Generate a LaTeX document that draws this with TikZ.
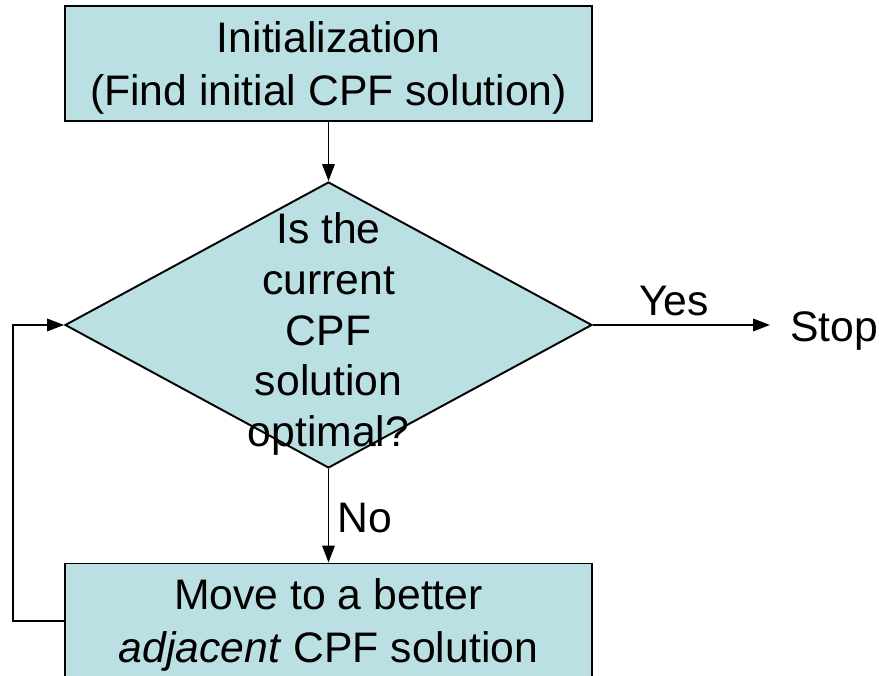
\documentclass[tikz,border=0pt]{standalone}
\usepackage{fontspec}
\setmainfont{Liberation Sans}
\usetikzlibrary{shapes.geometric,arrows.meta}
\definecolor{boxfill}{RGB}{187,224,227}

\begin{document}
\begin{tikzpicture}[
    every node/.style={font=\fontsize{24.3}{30.2}\selectfont, align=center},
    stepbox/.style={draw, fill=boxfill, line width=1.1pt, text depth=0pt, minimum width=10.54cm, minimum height=2.3cm},
    test/.style={draw, fill=boxfill, diamond, line width=1.1pt, inner sep=0pt, minimum width=10.54cm, minimum height=5.72cm},
    flow/.style={line width=1.1pt, -{Triangle[length=0.34cm,width=0.25cm]}}]
    \useasboundingbox (0,0) rectangle (17.58,13.52);
    % boxes
    \node[stepbox] (init) at (6.57,12.25) {Initialization\\(Find initial CPF solution)};
    \node[test] (dec) at (6.57,7.02) {};
    \node[font=\fontsize{24.3}{28.9}\selectfont] (q) at (6.57,6.84) {Is the\\current\\CPF\\solution\\optimal?};
    \node[stepbox] (move) at (6.57,1.10) {Move to a better\\\textit{adjacent} CPF solution};
    \node[anchor=west, inner xsep=0.4cm] (stop) at (15.4,6.9) {Stop};
    % arrows
    \draw[flow] (init) -- (dec.north);
    \draw[flow] (dec.east) -- node[above, xshift=-0.15cm, yshift=0.05cm] {Yes} (stop.west |- dec.east);
    \draw[flow] (dec.south) -- node[right, xshift=0.05cm, yshift=-0.04cm] {No} (move.north);
    \draw[flow] (move.west) -- ++(-1.02,0) |- (dec.west);
\end{tikzpicture}
\end{document}
